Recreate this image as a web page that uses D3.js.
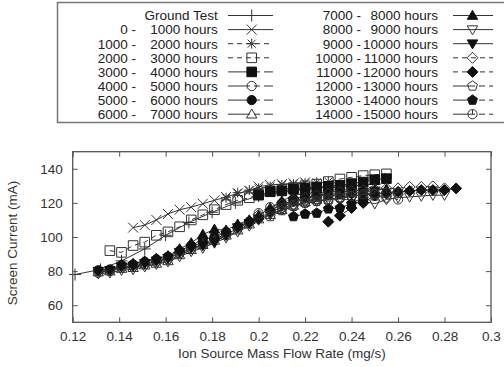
<!DOCTYPE html>
<html>
<head>
<meta charset="utf-8">
<script src="https://cdn.jsdelivr.net/npm/d3@7"></script>
<style>
  body { margin: 0; background: #fff; }
  svg { display: block; font-family: "Liberation Sans", Arial, sans-serif; }
</style>
</head>
<body>
<svg id="chart" width="504" height="367"></svg>
<script>
// ---- data ----
const legendLabels = [
  ["", "Ground Test"], ["0 -", "1000 hours"], ["1000 -", "2000 hours"], ["2000 -", "3000 hours"],
  ["3000 -", "4000 hours"], ["4000 -", "5000 hours"], ["5000 -", "6000 hours"], ["6000 -", "7000 hours"],
  ["7000 -", "8000 hours"], ["8000 -", "9000 hours"], ["9000 -", "10000 hours"], ["10000 -", "11000 hours"],
  ["11000 -", "12000 hours"], ["12000 -", "13000 hours"], ["13000 -", "14000 hours"], ["14000 -", "15000 hours"]
];
const xTicks = [0.12, 0.14, 0.16, 0.18, 0.2, 0.22, 0.24, 0.26, 0.28, 0.3];
const yTicks = [60, 80, 100, 120, 140];

const groundX = [0.121, 0.132, 0.141, 0.151, 0.16, 0.17, 0.18, 0.19, 0.2, 0.21, 0.22, 0.23, 0.24, 0.25];
const groundY = [78, 81, 86, 93, 101, 108.5, 114.5, 120, 124, 126.5, 128, 129, 130, 131];

const h0X = [0.146, 0.151, 0.156, 0.161, 0.166, 0.171, 0.176, 0.181, 0.186, 0.191, 0.196, 0.2, 0.205, 0.21, 0.215, 0.22];
const h0Y = [105.5, 107, 110, 113.5, 116, 117.5, 119.5, 121.5, 123.5, 125.5, 127, 129.5, 130.5, 131, 131.5, 132];

const h1X = [0.186, 0.191, 0.196, 0.2, 0.205, 0.21, 0.215, 0.22, 0.225, 0.23];
const h1Y = [123, 126, 127.5, 128.5, 129.5, 130.5, 131, 131.5, 132, 132.5];

const h2X = [0.136, 0.141, 0.146, 0.151, 0.156, 0.161, 0.166, 0.171, 0.176, 0.181, 0.186, 0.191, 0.196, 0.2, 0.205, 0.21, 0.215, 0.22, 0.225, 0.23, 0.235, 0.24, 0.245, 0.25, 0.255];
const h2Y = [92, 91, 95, 97, 101, 103, 106, 110, 113, 116, 119, 121.5, 123, 125, 127, 128, 129, 130, 131, 132.5, 134, 135, 136, 136.5, 137];

const h3X = [0.2, 0.205, 0.21, 0.215, 0.22, 0.225, 0.23, 0.235, 0.24, 0.245, 0.25, 0.255];
const h3Y = [124.5, 126.5, 127, 128, 128.5, 129.3, 129.7, 130.3, 131.3, 132.2, 133.6, 134.2];

const h4X = [0.131, 0.136, 0.141, 0.146, 0.151, 0.156, 0.161, 0.166, 0.171, 0.176, 0.181, 0.186, 0.191, 0.196, 0.2, 0.205, 0.21, 0.215, 0.22, 0.225, 0.23, 0.235, 0.24, 0.245, 0.25, 0.255, 0.26];
const h4Y = [79, 80, 82, 82.5, 84, 85.5, 87, 90.5, 93, 96, 99, 101.5, 105, 109, 114, 117.5, 120, 121, 121.5, 122, 121, 122.5, 124, 123.5, 124, 123, 122];

const h5X = [0.131, 0.136, 0.141, 0.146, 0.151, 0.156, 0.161, 0.166, 0.171, 0.176, 0.181, 0.186, 0.191, 0.196, 0.2, 0.205, 0.21, 0.215, 0.22, 0.225, 0.23, 0.235, 0.24, 0.245];
const h5Y = [80.5, 81, 83.5, 84, 85.5, 87, 88.5, 92, 95, 98.5, 100, 103, 106, 109, 111, 115, 119.5, 121.5, 123, 124, 124.5, 125, 125.5, 126];

const h6X = [0.131, 0.136, 0.141, 0.146, 0.151, 0.156, 0.161, 0.166, 0.171, 0.176, 0.181, 0.186, 0.191, 0.196, 0.2, 0.205, 0.21, 0.215, 0.22, 0.225];
const h6Y = [79.5, 80, 81.5, 82, 83.5, 84.5, 86, 89.5, 92.5, 95.5, 98, 101, 104, 107.5, 110.5, 113, 116, 118.5, 120.5, 122];

const h7X = [0.141, 0.146, 0.151, 0.156, 0.161, 0.166, 0.171, 0.176, 0.181, 0.186, 0.191, 0.196, 0.2, 0.205, 0.21, 0.215, 0.22, 0.225, 0.23, 0.235, 0.24, 0.245, 0.25, 0.255];
const h7Y = [84, 84.5, 86, 87.5, 89, 93, 96.5, 101.5, 104.5, 104, 107.5, 110, 112.5, 117, 121, 124.5, 125.5, 126, 126.5, 126.5, 127, 127.5, 127.5, 128];

const h8X = [0.131, 0.136, 0.141, 0.146, 0.151, 0.156, 0.161, 0.166, 0.171, 0.176, 0.181, 0.186, 0.191, 0.196, 0.2, 0.205, 0.21, 0.215, 0.22, 0.225, 0.23, 0.235, 0.24, 0.245, 0.25, 0.255, 0.26, 0.265, 0.27, 0.275, 0.28];
const h8Y = [78.5, 79, 80.5, 81, 82.5, 84, 85.5, 88.5, 91.5, 93.5, 96.5, 99.5, 103, 106.5, 110, 113, 116, 118, 120, 121, 122, 122.5, 121.5, 121, 119.5, 122, 123, 123.5, 124, 124.5, 124.5];

const h9X = [0.131, 0.136, 0.141, 0.146, 0.151, 0.156, 0.161, 0.166, 0.171, 0.176, 0.181, 0.186, 0.191, 0.196, 0.2, 0.205, 0.21, 0.215, 0.22, 0.225, 0.23, 0.235, 0.24, 0.245, 0.25];
const h9Y = [80, 80.5, 82.5, 83, 84.5, 86, 87.5, 91, 93.5, 95, 97, 101, 105.5, 108, 110.5, 114, 118, 121, 123, 124, 125, 125.5, 126, 126.5, 127];

const h10X = [0.2, 0.205, 0.21, 0.215, 0.22, 0.225, 0.23, 0.235, 0.24, 0.245, 0.25, 0.255, 0.26, 0.265, 0.27, 0.275, 0.28];
const h10Y = [113, 116, 119, 121.5, 123, 124.5, 125.5, 126.5, 127, 127.5, 128, 128.5, 128.5, 129.3, 129.3, 129.7, 128.5];

const h11X = [0.23, 0.235, 0.24, 0.245, 0.25, 0.255, 0.26, 0.265, 0.27, 0.275, 0.28, 0.285];
const h11Y = [109, 112.5, 117, 120, 124.5, 125.5, 126.5, 127, 127.5, 127.5, 127.5, 128.5];

const h12X = [0.205, 0.21, 0.215, 0.22, 0.225, 0.23, 0.235, 0.24, 0.245, 0.25];
const h12Y = [112, 115.5, 118, 120, 121, 122, 123, 124, 124.5, 125];

const h13X = [0.215, 0.22, 0.225, 0.23, 0.235, 0.24, 0.245];
const h13Y = [112, 113.5, 114, 116.5, 117, 119.5, 121];

const h14X = [0.21, 0.215, 0.22, 0.225, 0.23, 0.235, 0.24, 0.245, 0.25, 0.255, 0.26];
const h14Y = [117, 119, 120, 121, 122, 123, 124, 125, 125.5, 126, 126];

// series table built from the arrays above
const SOLID = null, SHORT = "5,4", LONG = "22,4,6,4";
const series = [
  { xs: groundX, ys: groundY, mark: "plus", dash: SOLID },
  { xs: h0X, ys: h0Y, mark: "cross", dash: SOLID },
  { xs: h1X, ys: h1Y, mark: "star", dash: SHORT },
  { xs: h2X, ys: h2Y, mark: "square", dash: SHORT },
  { xs: h3X, ys: h3Y, mark: "squareF", dash: LONG },
  { xs: h4X, ys: h4Y, mark: "circle", dash: LONG },
  { xs: h5X, ys: h5Y, mark: "circleF", dash: LONG },
  { xs: h6X, ys: h6Y, mark: "tri", dash: LONG },
  { xs: h7X, ys: h7Y, mark: "triF", dash: SOLID },
  { xs: h8X, ys: h8Y, mark: "triD", dash: SOLID },
  { xs: h9X, ys: h9Y, mark: "triDF", dash: SOLID },
  { xs: h10X, ys: h10Y, mark: "diamond", dash: SHORT },
  { xs: h11X, ys: h11Y, mark: "diamondF", dash: SHORT },
  { xs: h12X, ys: h12Y, mark: "pent", dash: LONG },
  { xs: h13X, ys: h13Y, mark: "pentF", dash: LONG },
  { xs: h14X, ys: h14Y, mark: "circleBar", dash: LONG }
];

// ---- layout ----
const svg = d3.select("#chart");
const pLeft = 72.7, pRight = 491, pTop = 151.7, pBottom = 322.3;
const ink = "#222", frame = "#555";

const x = d3.scaleLinear().domain([0.12, 0.3]).range([pLeft, pRight]);
const y = d3.scaleLinear().domain([50, 150]).range([pBottom, pTop]);

// marker shapes
function markPath(kind) {
  const r = 4.6;
  const circ = rr => `M${-rr},0A${rr},${rr} 0 1,0 ${rr},0A${rr},${rr} 0 1,0 ${-rr},0Z`;
  switch (kind) {
    case "plus": return "M-6,0H6M0,-6V6";
    case "cross": return "M-5,-5L5,5M-5,5L5,-5";
    case "star": return "M-5,0H5M0,-5V5M-4,-4L4,4M-4,4L4,-4";
    case "square": case "squareF": return "M-4.8,-4.8H4.8V4.8H-4.8Z";
    case "circle": case "circleF": case "circleBar": return circ(r);
    case "tri": case "triF": return "M0,-5.2L5.2,3.8H-5.2Z";
    case "triD": case "triDF": return "M0,5.2L5.2,-3.8H-5.2Z";
    case "diamond": case "diamondF": return "M0,-5.5L5.5,0L0,5.5L-5.5,0Z";
    case "pent": case "pentF": {
      const pts = d3.range(5).map(i => {
        const a = -Math.PI / 2 + i * 2 * Math.PI / 5;
        return [5.2 * Math.cos(a), 5.2 * Math.sin(a)];
      });
      return "M" + pts.map(p => p.join(",")).join("L") + "Z";
    }
  }
}
const filled = k => /F$/.test(k);

function drawMark(g, kind, cx, cy) {
  g.append("path")
    .attr("transform", `translate(${cx},${cy})`)
    .attr("d", markPath(kind))
    .attr("fill", filled(kind) ? "#111" : "none")
    .attr("stroke", filled(kind) ? "#111" : "#333")
    .attr("stroke-width", 1);
  if (kind === "circleBar") {
    g.append("path")
      .attr("transform", `translate(${cx},${cy})`)
      .attr("d", "M0,-4.6V0")
      .attr("stroke", "#333").attr("stroke-width", 1);
  }
}

// ---- plot ----
const plot = svg.append("g");
const line = d3.line().x(d => x(d[0])).y(d => y(d[1]));

series.forEach(s => {
  const pts = s.xs.map((v, i) => [v, s.ys[i]]);
  plot.append("path")
    .attr("d", line(pts))
    .attr("fill", "none")
    .attr("stroke", "#333")
    .attr("stroke-width", 1)
    .attr("stroke-dasharray", s.dash);
  const g = plot.append("g");
  pts.forEach(p => drawMark(g, s.mark, x(p[0]), y(p[1])));
});

// ---- axes (inward ticks, mirrored) ----
const fmt = d => String(+d.toFixed(2));
function styleAxis(g) {
  g.selectAll(".domain").remove();
  g.selectAll(".tick line").attr("stroke", frame);
  g.selectAll("text").attr("fill", "#333").style("font-size", "13.5px")
    .style("font-family", "'Liberation Sans', Arial, sans-serif");
}
svg.append("g").attr("transform", `translate(0,${pBottom})`)
  .call(d3.axisBottom(x).tickValues(xTicks).tickFormat(fmt).tickSize(-5).tickPadding(9))
  .call(styleAxis);
svg.append("g").attr("transform", `translate(0,${pTop})`)
  .call(d3.axisTop(x).tickValues(xTicks).tickFormat("").tickSize(-5))
  .call(styleAxis);
svg.append("g").attr("transform", `translate(${pLeft},0)`)
  .call(d3.axisLeft(y).tickValues(yTicks).tickSize(-5).tickPadding(10))
  .call(styleAxis);
svg.append("g").attr("transform", `translate(${pRight},0)`)
  .call(d3.axisRight(y).tickValues(yTicks).tickFormat("").tickSize(-5))
  .call(styleAxis);

svg.append("rect")
  .attr("x", pLeft).attr("y", pTop)
  .attr("width", pRight - pLeft).attr("height", pBottom - pTop)
  .attr("fill", "none").attr("stroke", frame).attr("stroke-width", 1.3);

svg.append("text")
  .attr("x", (pLeft + pRight) / 2).attr("y", 357.5)
  .attr("text-anchor", "middle").attr("fill", "#333").style("font-size", "13.5px")
  .text("Ion Source Mass Flow Rate (mg/s)");
svg.append("text")
  .attr("transform", `translate(17,${(pTop + pBottom) / 2 + 6}) rotate(-90)`)
  .attr("text-anchor", "middle").attr("fill", "#333").style("font-size", "13.5px")
  .text("Screen Current (mA)");

// ---- legend ----
const leg = svg.append("g");
leg.append("rect")
  .attr("x", 57.5).attr("y", 2.5).attr("width", 450).attr("height", 120)
  .attr("fill", "#fff").attr("stroke", "#777").attr("stroke-width", 1.5);

series.forEach((s, i) => {
  const col = i < 8 ? 0 : 1;
  const row = i % 8;
  const cy = 15.5 + row * 14.1;
  const dashEnd = col ? 361 : 136;
  const textEnd = col ? 438 : 217.7;
  const x0 = col ? 453 : 228, x1 = col ? 493 : 273;
  const mx = col ? 472.5 : 251.7;
  const [a, b] = legendLabels[i];
  if (a) {
    leg.append("text").attr("x", dashEnd).attr("y", cy + 4.8)
      .attr("text-anchor", "end").attr("fill", ink).style("font-size", "13.5px").text(a);
  }
  leg.append("text").attr("x", textEnd).attr("y", cy + 4.8)
    .attr("text-anchor", "end").attr("fill", ink).style("font-size", "13.5px").text(b);
  leg.append("line")
    .attr("x1", x0).attr("x2", x1).attr("y1", cy).attr("y2", cy)
    .attr("stroke", "#333").attr("stroke-width", 1)
    .attr("stroke-dasharray", s.dash);
  drawMark(leg, s.mark, mx, cy);
});
</script>
</body>
</html>
